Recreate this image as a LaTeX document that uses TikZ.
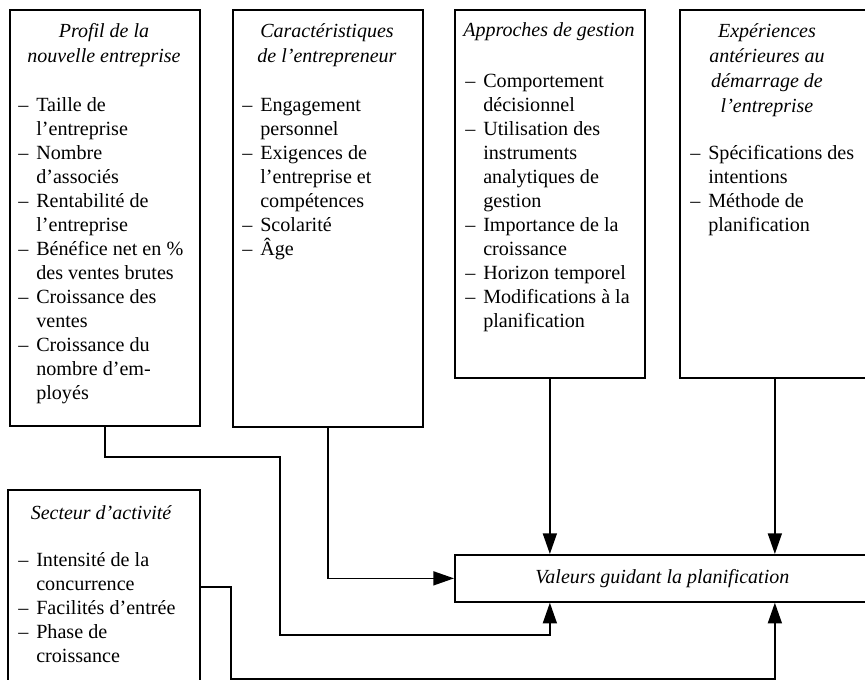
\documentclass[tikz,border=0pt]{standalone}
\usepackage{fontspec}
\setmainfont{Liberation Serif}
\usetikzlibrary{arrows.meta}
\newcommand\dd{\makebox[13.5pt][l]{–}}
\newcommand\ii{\hspace*{13.5pt}}
\newcommand\stackL[1]{\vtop{\baselineskip=18pt\lineskiplimit=-10pt\halign{##\hfil\cr#1\crcr}}}
\newcommand\stackC[1]{\vtop{\baselineskip=18.6pt\lineskiplimit=-10pt\halign{\hfil##\hfil\cr#1\crcr}}}
\begin{document}
\begin{tikzpicture}[x=0.75pt,y=-0.75pt,
  box/.style={draw, line width=1.3pt, inner sep=0pt, anchor=north west},
  head/.style={font=\fontsize{15}{18.6}\selectfont\itshape, anchor=base, inner sep=0pt},
  lst/.style={font=\fontsize{15.1}{18}\selectfont, anchor=base west, inner sep=0pt},
  conn/.style={line width=1.2pt},
  arr/.style={conn, -{Triangle[length=15.5pt,width=10.5pt]}}]
\clip (0,0) rectangle (865,680);
% boxes
\node[box, minimum width=142.5pt, minimum height=312pt] (b1) at (9,9) {};
\node[box, minimum width=142.5pt, minimum height=312.75pt] (b2) at (232,9) {};
\node[box, minimum width=142.5pt, minimum height=276pt] (b3) at (454,9) {};
\node[box, minimum width=142.5pt, minimum height=276pt] (b4) at (679,9) {};
\node[box, minimum width=144pt, minimum height=160pt] (sec) at (7,489) {};
\node[box, minimum width=311.25pt, minimum height=35.25pt,
      font=\fontsize{15}{18}\selectfont\itshape] (val) at (454,554) {Valeurs guidant la planification};
% texts
\node[head] (h1) at (104,38) {\stackC{Profil de la\cr nouvelle entreprise}};
\node[lst] (l1) at (18,112) {\stackL{\dd Taille de\cr\ii l’entreprise\cr\dd Nombre\cr\ii d’associés\cr\dd Rentabilité de\cr\ii l’entreprise\cr\dd Bénéfice net en \%\cr\ii des ventes brutes\cr\dd Croissance des\cr\ii ventes\cr\dd Croissance du\cr\ii nombre d’em-\cr\ii ployés}};
\node[head] (h2) at (327,38) {\stackC{Caractéristiques\cr de l’entrepreneur}};
\node[lst] (l2) at (242,112) {\stackL{\dd Engagement\cr\ii personnel\cr\dd Exigences de\cr\ii l’entreprise et\cr\ii compétences\cr\dd Scolarité\cr\dd Âge}};
\node[head] (h3) at (549,37) {\stackC{Approches de gestion}};
\node[lst] (l3) at (465,88) {\stackL{\dd Comportement\cr\ii décisionnel\cr\dd Utilisation des\cr\ii instruments\cr\ii analytiques de\cr\ii gestion\cr\dd Importance de la\cr\ii croissance\cr\dd Horizon temporel\cr\dd Modifications à la\cr\ii planification}};
\node[head] (h4) at (767,38) {\stackC{Expériences\cr antérieures au\cr démarrage de\cr l’entreprise}};
\node[lst] (l4) at (690,160) {\stackL{\dd Spécifications des\cr\ii intentions\cr\dd Méthode de\cr\ii planification}};
\node[head] (h5) at (101,520) {\stackC{Secteur d’activité}};
\node[lst] (l5) at (18,567) {\stackL{\dd Intensité de la\cr\ii concurrence\cr\dd Facilités d’entrée\cr\dd Phase de\cr\ii croissance}};
% connectors
\coordinate (k1) at (280,457);
\coordinate (k2) at (280,635);
\coordinate (s1) at (231,587);
\coordinate (s2) at (231,679);
\draw[arr] (b1.south) |- (k1) -- (k2) -| (val.south -| b3.south);
\draw[arr] (b2.south) |- (val.west);
\draw[arr] (b3.south) -- (val.north -| b3.south);
\draw[arr] (b4.south) -- (val.north -| b4.south);
\draw[arr] (sec.east |- s1) -- (s1) -- (s2) -| (val.south -| b4.south);
\end{tikzpicture}
\end{document}
